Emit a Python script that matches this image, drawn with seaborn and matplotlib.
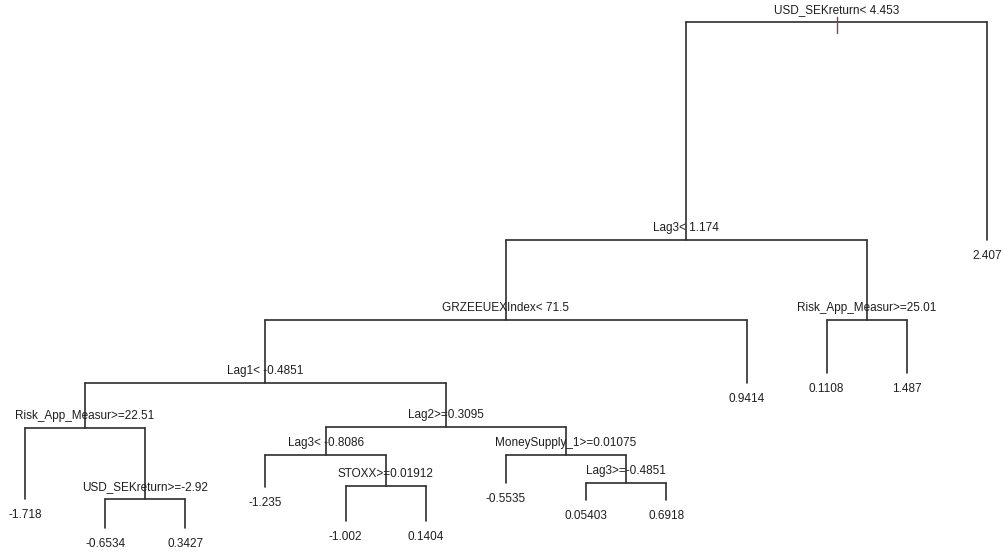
import matplotlib
matplotlib.use("Agg")
import matplotlib.pyplot as plt
import seaborn as sns
import pandas as pd
from matplotlib import font_manager

# ---- data: rpart regression tree ----
# node ids follow rpart numbering (children of n are 2n and 2n+1)
split_nodes = [1, 2, 4, 8, 16, 33, 17, 34, 69, 35, 71, 5]
split_labels = [
    "USD_SEKreturn< 4.453",
    "Lag3< 1.174",
    "GRZEEUEXIndex< 71.5",
    "Lag1< -0.4851",
    "Risk_App_Measur>=22.51",
    "USD_SEKreturn>=-2.92",
    "Lag2>=0.3095",
    "Lag3< -0.8086",
    "STOXX>=0.01912",
    "MoneySupply_1>=0.01075",
    "Lag3>=-0.4851",
    "Risk_App_Measur>=25.01",
]
leaf_nodes = [32, 66, 67, 68, 138, 139, 70, 142, 143, 9, 10, 11, 3]
leaf_values = ["-1.718", "-0.6534", "0.3427", "-1.235", "-1.002", "0.1404",
               "-0.5535", "0.05403", "0.6918", "0.9414", "0.1108", "1.487", "2.407"]
# node depth (cumulative deviance drop, in px from top)
depth_nodes = [1, 2, 3, 4, 5, 8, 9, 10, 11, 16, 17, 32, 33, 34, 35,
               66, 67, 68, 69, 70, 71, 138, 139, 142, 143]
depth_values = [22, 240, 240, 320, 320, 383, 383, 373, 373, 428, 427, 499, 499, 455, 455,
                528, 528, 487, 486, 483, 483, 521, 521, 500, 500]

# ---- layout computed from the structure ----
depth = dict(zip(depth_nodes, depth_values))
xpos = {n: i + 1 for i, n in enumerate(leaf_nodes)}
all_nodes = set(split_nodes) | set(leaf_nodes)

def getx(n):
    if n in xpos:
        return xpos[n]
    xpos[n] = (getx(2 * n) + getx(2 * n + 1)) / 2
    return xpos[n]

for n in split_nodes:
    getx(n)

rows = []
seg = 0
for n in split_nodes:
    rows += [(seg, xpos[2 * n], depth[n]), (seg, xpos[2 * n + 1], depth[n])]
    seg += 1
for n in all_nodes:
    if n == 1:
        continue
    rows += [(seg, xpos[n], depth[n // 2]), (seg, xpos[n], depth[n])]
    seg += 1
edges = pd.DataFrame(rows, columns=["seg", "x", "y"])

# ---- plot ----
sns.set_theme(style="white")
names = {f.name for f in font_manager.fontManager.ttflist}
fam = "Liberation Sans Narrow" if "Liberation Sans Narrow" in names else "Liberation Sans"
plt.rcParams["font.family"] = [fam, "DejaVu Sans"]

fig = plt.figure(figsize=(10.04, 5.56), dpi=100)
ax = fig.add_axes([0, 0, 1, 1])
sns.lineplot(data=edges, x="x", y="y", units="seg", estimator=None, sort=False,
             color="#2e2e2e", linewidth=1.2, ax=ax, legend=False)

# root marker
ax.plot([xpos[1], xpos[1]], [depth[1] - 5, depth[1] + 11], color="#7a4a5a", lw=1.0)

fs = 8.5
for n, lab in zip(split_nodes, split_labels):
    ax.annotate(lab, (xpos[n], depth[n]), xytext=(0, 8.6), textcoords="offset points",
                ha="center", va="center", fontsize=fs, color="#1e1e1e")
for n, lab in zip(leaf_nodes, leaf_values):
    ax.annotate(lab, (xpos[n], depth[n]), xytext=(0, -11.5), textcoords="offset points",
                ha="center", va="center", fontsize=fs, color="#1e1e1e")

ax.set_xlim(1 - 25 / 80.17, 13 + 17 / 80.17)
ax.set_ylim(556, 0)
ax.axis("off")
fig.savefig("out.png", dpi=100, facecolor="white")
